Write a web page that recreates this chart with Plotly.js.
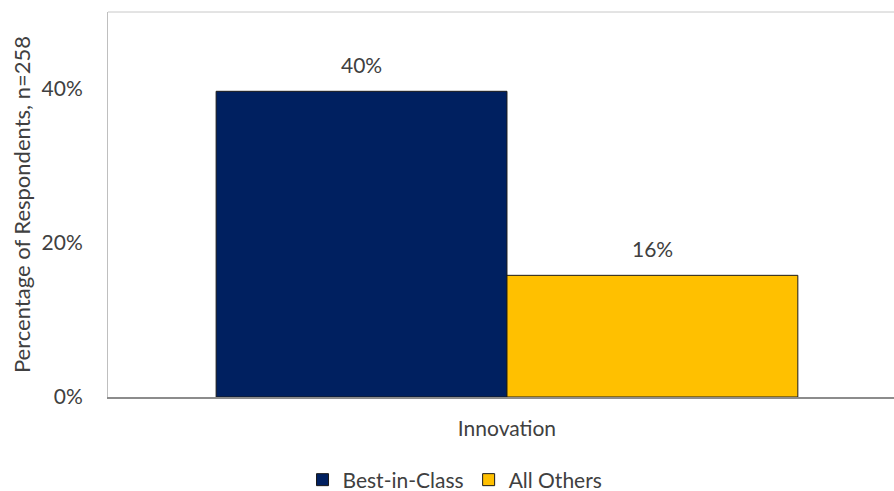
<!DOCTYPE html>
<html>
<head>
<meta charset="utf-8">
<script src="https://cdn.plot.ly/plotly-3.0.1.min.js"></script>
<style>html,body{margin:0;padding:0;background:#fff;}#chart{width:894px;height:491px;}</style>
</head>
<body>
<div id="chart"></div>
<script>
var categories = ["Innovation"];
var seriesNames = ["Best-in-Class", "All Others"];
var bestInClass = [39.7];
var allOthers = [15.8];
var bestLabels = ["40%"];
var otherLabels = ["16%"];
var yTickVals = [0, 20, 40];
var yTickText = ["0%", "20%", "40%"];

var FONT = "Lato, Open Sans, sans-serif";
var FS = 21;
var TXT = "#404040";
var bargap = 0.271;

var traces = [
  {type: "bar", name: seriesNames[0], x: categories, y: bestInClass,
   marker: {color: "#002060", line: {color: "#1a1a1a", width: 1}}, hoverinfo: "none"},
  {type: "bar", name: seriesNames[1], x: categories, y: allOthers,
   marker: {color: "#FFC000", line: {color: "#1a1a1a", width: 1}}, hoverinfo: "none"}
];

var bw = (1 - bargap) / 2;
var annotations = [];
[[bestInClass, bestLabels, -bw / 2], [allOthers, otherLabels, bw / 2]].forEach(function (s) {
  s[0].forEach(function (v, i) {
    annotations.push({x: i + s[2], y: v, xref: "x", yref: "y", text: s[1][i],
      showarrow: false, yanchor: "bottom", yshift: 12,
      font: {family: FONT, size: FS, color: TXT}});
  });
});

var layout = {
  width: 894, height: 491,
  margin: {l: 108, r: 0, t: 12, b: 94, autoexpand: false},
  paper_bgcolor: "#fff", plot_bgcolor: "#fff",
  barmode: "group", bargap: bargap, bargroupgap: 0,
  font: {family: FONT, size: FS, color: TXT},
  xaxis: {type: "category", range: [-0.5, 0.485], showgrid: false, zeroline: false,
    showline: true, linecolor: "#8c8c8c", linewidth: 1.5, ticks: "",
    tickfont: {family: FONT, size: FS, color: TXT}, ticklabelstandoff: 12},
  yaxis: {range: [0, 50], tickvals: yTickVals, ticktext: yTickText, showgrid: false,
    zeroline: false, showline: true, linecolor: "#bfbfbf", linewidth: 1, ticks: "",
    tickfont: {family: FONT, size: FS, color: TXT}, ticklabelstandoff: 20,
    title: {text: "Percentage of Respondents, n=258", font: {family: FONT, size: 22, color: TXT}, standoff: 4}},
  shapes: [{type: "line", xref: "paper", yref: "paper", x0: 0, x1: 1, y0: 1, y1: 1,
    line: {color: "#c8c8c8", width: 1}}],
  annotations: annotations,
  showlegend: true,
  legend: {orientation: "h", x: 0.4415, xanchor: "center", xref: "paper",
    y: 0.0224, yanchor: "middle", yref: "container",
    font: {family: FONT, size: FS, color: TXT}, traceorder: "normal"}
};

Plotly.newPlot("chart", traces, layout, {staticPlot: true, displayModeBar: false});
</script>
</body>
</html>
